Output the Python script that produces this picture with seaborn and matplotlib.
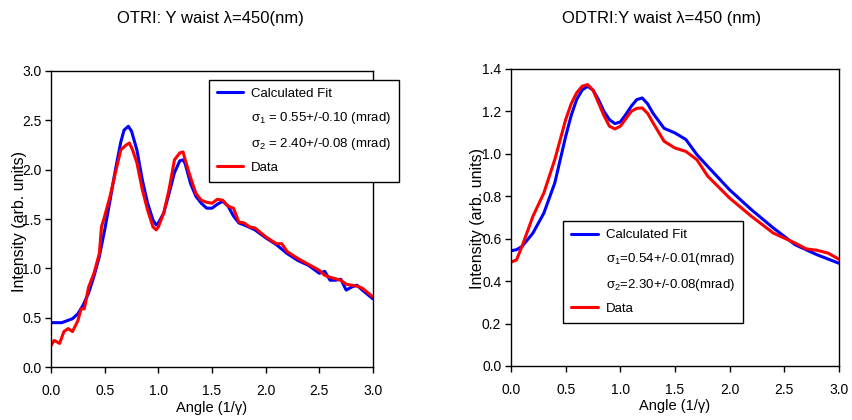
import numpy as np
import pandas as pd
import matplotlib
matplotlib.use("Agg")
import matplotlib.pyplot as plt
from matplotlib.lines import Line2D
import seaborn as sns

# ---------------- data ----------------
# Left panel (OTRI)
otri_fit_x = [0.0, 0.1, 0.2, 0.25, 0.3, 0.35, 0.4, 0.45, 0.5, 0.55, 0.6, 0.65, 0.68, 0.72, 0.75,
              0.8, 0.85, 0.9, 0.95, 0.98, 1.0, 1.05, 1.1, 1.15, 1.2, 1.23, 1.25, 1.3, 1.35, 1.4,
              1.45, 1.5, 1.55, 1.6, 1.65, 1.7, 1.75, 1.8, 1.9, 2.0, 2.1, 2.2, 2.3, 2.4, 2.5,
              2.55, 2.6, 2.65, 2.7, 2.75, 2.8, 2.85, 2.9, 3.0]
otri_fit_y = [0.45, 0.45, 0.49, 0.54, 0.63, 0.75, 0.92, 1.12, 1.39, 1.69, 2.0, 2.28, 2.40, 2.44, 2.39,
              2.20, 1.90, 1.66, 1.49, 1.44, 1.46, 1.56, 1.76, 1.97, 2.09, 2.10, 2.06, 1.86, 1.73, 1.66,
              1.61, 1.61, 1.65, 1.68, 1.63, 1.53, 1.46, 1.44, 1.39, 1.31, 1.24, 1.15, 1.08, 1.03, 0.95,
              0.97, 0.88, 0.88, 0.89, 0.78, 0.81, 0.83, 0.78, 0.69]
otri_data_x = [0.0, 0.03, 0.08, 0.12, 0.16, 0.2, 0.25, 0.28, 0.31, 0.35, 0.4, 0.45, 0.47, 0.5, 0.55,
               0.6, 0.65, 0.7, 0.73, 0.76, 0.8, 0.85, 0.9, 0.95, 0.98, 1.0, 1.05, 1.1, 1.15, 1.2,
               1.23, 1.25, 1.3, 1.35, 1.4, 1.45, 1.5, 1.55, 1.6, 1.65, 1.7, 1.75, 1.8, 1.85, 1.9,
               2.0, 2.1, 2.15, 2.2, 2.3, 2.4, 2.5, 2.55, 2.6, 2.7, 2.75, 2.8, 2.85, 2.9, 3.0]
otri_data_y = [0.22, 0.27, 0.24, 0.36, 0.39, 0.36, 0.47, 0.59, 0.59, 0.81, 0.95, 1.15, 1.42, 1.53, 1.73,
               1.97, 2.20, 2.25, 2.27, 2.20, 2.07, 1.80, 1.59, 1.42, 1.39, 1.42, 1.56, 1.80, 2.10, 2.17,
               2.18, 2.10, 1.92, 1.76, 1.69, 1.67, 1.66, 1.70, 1.69, 1.63, 1.61, 1.47, 1.46, 1.42, 1.41,
               1.32, 1.25, 1.25, 1.17, 1.10, 1.04, 0.98, 0.93, 0.91, 0.88, 0.84, 0.83, 0.82, 0.80, 0.71]

# Right panel (ODTRI)
odtri_fit_x = [0.0, 0.05, 0.1, 0.2, 0.3, 0.4, 0.5, 0.55, 0.6, 0.65, 0.7, 0.75, 0.8, 0.85, 0.9, 0.95,
               1.0, 1.05, 1.1, 1.15, 1.2, 1.25, 1.3, 1.4, 1.5, 1.6, 1.7, 1.8, 2.0, 2.2, 2.4, 2.6,
               2.8, 3.0]
odtri_fit_y = [0.543, 0.548, 0.563, 0.626, 0.72, 0.862, 1.082, 1.18, 1.255, 1.30, 1.318, 1.30, 1.255,
               1.20, 1.161, 1.142, 1.150, 1.185, 1.224, 1.255, 1.263, 1.235, 1.19, 1.12, 1.098, 1.067,
               0.996, 0.94, 0.83, 0.736, 0.65, 0.571, 0.524, 0.484]
odtri_data_x = [0.0, 0.05, 0.1, 0.2, 0.3, 0.4, 0.5, 0.55, 0.6, 0.65, 0.7, 0.75, 0.8, 0.85, 0.9, 0.95,
                1.0, 1.05, 1.1, 1.15, 1.2, 1.25, 1.3, 1.4, 1.5, 1.6, 1.7, 1.8, 2.0, 2.2, 2.4, 2.6,
                2.7, 2.8, 2.9, 3.0]
odtri_data_y = [0.489, 0.50, 0.563, 0.705, 0.815, 0.972, 1.161, 1.235, 1.287, 1.318, 1.326, 1.30,
                1.24, 1.18, 1.13, 1.117, 1.130, 1.165, 1.20, 1.214, 1.216, 1.19, 1.145, 1.059,
                1.027, 1.011, 0.972, 0.894, 0.791, 0.705, 0.626, 0.579, 0.552, 0.545, 0.532, 0.503]

titles = ["OTRI: Y waist λ=450(nm)", "ODTRI:Y waist λ=450 (nm)"]
left_legend = ["Calculated Fit", "σ$_1$ = 0.55+/-0.10 (mrad)", "σ$_2$ = 2.40+/-0.08 (mrad)", "Data"]
right_legend = ["Calculated Fit", "σ$_1$=0.54+/-0.01(mrad)", "σ$_2$=2.30+/-0.08(mrad)", "Data"]
x_ticks = [0.0, 0.5, 1.0, 1.5, 2.0, 2.5, 3.0]
left_yticks = [0.0, 0.5, 1.0, 1.5, 2.0, 2.5, 3.0]
right_yticks = [0.0, 0.2, 0.4, 0.6, 0.8, 1.0, 1.2, 1.4]

# ---------------- style ----------------
sns.set_theme(style="ticks")
FAM = ["Liberation Sans", "DejaVu Sans"]
plt.rcParams["font.family"] = FAM
plt.rcParams["mathtext.default"] = "regular"
plt.rcParams["axes.edgecolor"] = "black"
plt.rcParams["axes.linewidth"] = 1.0
plt.rcParams["text.color"] = "black"
plt.rcParams["axes.labelcolor"] = "black"

BLUE = "#0000ff"
RED = "#ff0000"

fig = plt.figure(figsize=(8.52, 4.2), dpi=100)
axL = fig.add_axes([0.0599, 0.126, 0.3779, 0.705])
axR = fig.add_axes([0.5998, 0.1286, 0.3849, 0.7074])


def draw(ax, fx, fy, dx, dy):
    df_fit = pd.DataFrame({"x": fx, "y": fy})
    df_dat = pd.DataFrame({"x": dx, "y": dy})
    sns.lineplot(data=df_fit, x="x", y="y", ax=ax, color=BLUE, lw=2.2, sort=False)
    sns.lineplot(data=df_dat, x="x", y="y", ax=ax, color=RED, lw=2.2, sort=False)


draw(axL, otri_fit_x, otri_fit_y, otri_data_x, otri_data_y)
draw(axR, odtri_fit_x, odtri_fit_y, odtri_data_x, odtri_data_y)

for ax, yt, ylim in [(axL, left_yticks, 3.0), (axR, right_yticks, 1.4)]:
    ax.set_xlim(0, 3.0)
    ax.set_ylim(0, ylim)
    ax.set_xticks(x_ticks)
    ax.set_xticklabels([f"{v:.1f}" for v in x_ticks])
    ax.set_yticks(yt)
    ax.set_yticklabels([f"{v:.1f}" for v in yt])
    ax.tick_params(axis="both", direction="out", length=4, width=1, labelsize=10,
                   colors="black", pad=3)
    ax.tick_params(axis="x", pad=8)
    for s in ax.spines.values():
        s.set_visible(True)
        s.set_color("black")
        s.set_linewidth(1.0)
    ax.set_xlabel("Angle (1/γ)", fontsize=10.5, labelpad=2)
    ax.set_ylabel("Intensity (arb. units)", fontsize=11.5)

axL.yaxis.set_label_coords(-0.075, 0.49)
axR.yaxis.set_label_coords(-0.079, 0.495)

fig.text(0.247, 0.957, titles[0], ha="center", va="center", fontsize=12)
fig.text(0.777, 0.957, titles[1], ha="center", va="center", fontsize=12)


def legend(ax, labels, anchor):
    handles = [Line2D([], [], color=BLUE, lw=2.2),
               Line2D([], [], color="none"),
               Line2D([], [], color="none"),
               Line2D([], [], color=RED, lw=2.2)]
    leg = ax.legend(handles, labels, loc="upper left", bbox_to_anchor=anchor,
                    fontsize=9.5, frameon=True, fancybox=False, handlelength=2.0,
                    handletextpad=0.6, labelspacing=0.75, borderpad=0.6,
                    borderaxespad=0)
    leg.get_frame().set_edgecolor("black")
    leg.get_frame().set_linewidth(1.0)
    leg.get_frame().set_alpha(1)


legend(axL, left_legend, (0.49, 0.97))
legend(axR, right_legend, (0.16, 0.488))

fig.savefig("out.png", dpi=100)
